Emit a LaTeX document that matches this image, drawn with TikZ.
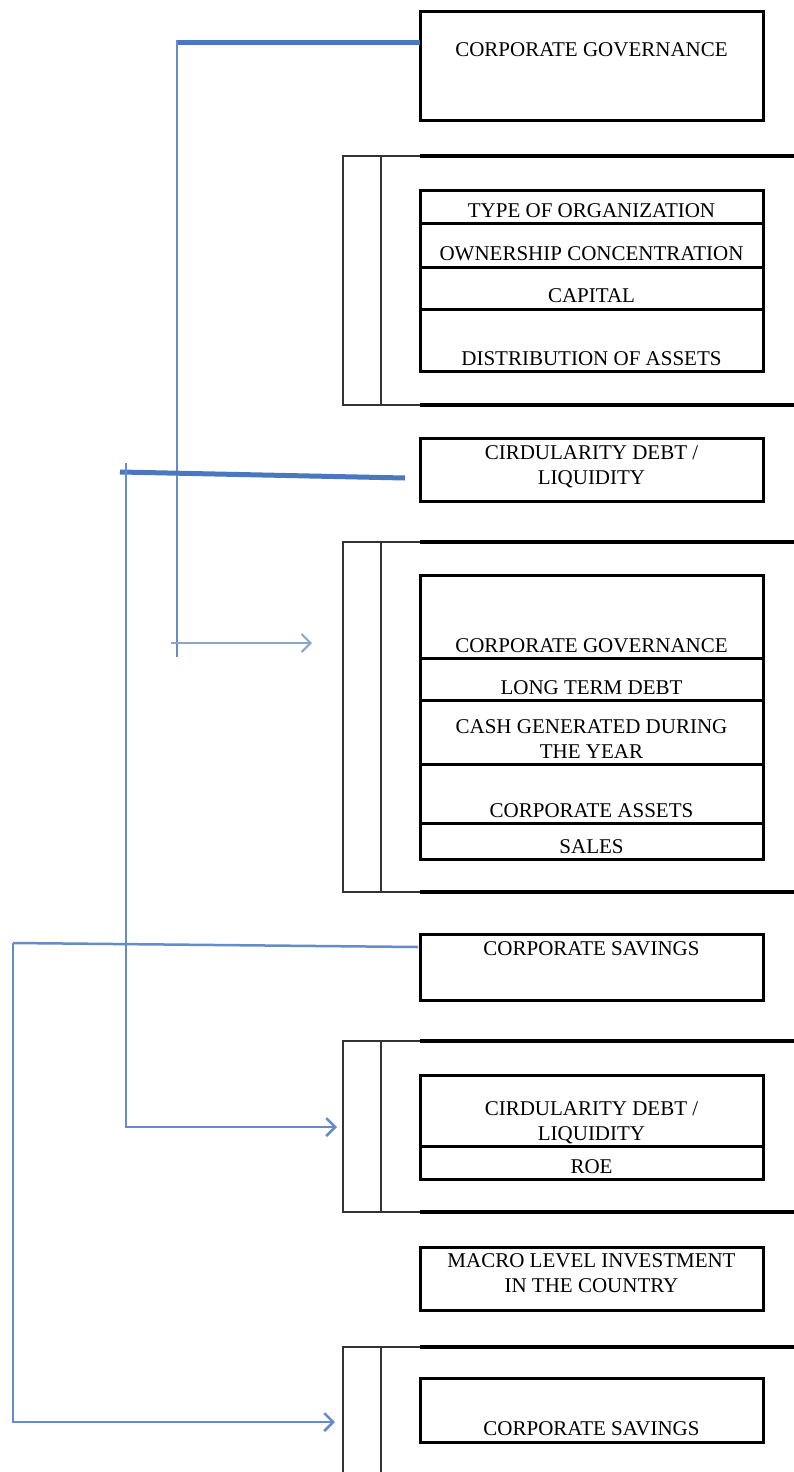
\documentclass[tikz,border=0pt]{standalone}
\usepackage{fontspec}
\setmainfont{Liberation Serif}
\usetikzlibrary{positioning,arrows.meta}

\definecolor{linkblue}{HTML}{4A78C0}
\definecolor{paleblue}{HTML}{8AA4CC}

\begin{document}
\begin{tikzpicture}[x=1pt, y=-1pt, node distance=0pt,
	every node/.style={font=\fontsize{21}{25}\selectfont},
	cell/.style={draw, line width=3pt, minimum width=343pt, inner sep=0pt, outer sep=0pt, align=center},
	bar/.style={line width=2pt, black!80},
	rule/.style={line width=3.5pt},
	thickblue/.style={line width=5pt, linkblue},
	midblue/.style={line width=2.5pt, linkblue!85},
	feed/.style={-{Straight Barb[length=9pt, width=18pt]}}]
	\fill[white] (0,0) rectangle (794,1472);
	\useasboundingbox (0,0) rectangle (794,1472);

	% brackets
	\foreach \t/\b in {156/405, 542/892, 1041/1212} {
		\draw[bar] (420,\t) -| (343,\b) -- (420,\b);
		\draw[bar] (381,\t) -- (381,\b);
		\draw[rule] (420,\t) -- (794,\t);
		\draw[rule] (420,\b) -- (794,\b);
	}
	\draw[bar] (420,1347) -| (343,1472);
	\draw[bar] (381,1347) -- (381,1472);
	\draw[rule] (420,1347) -- (794,1347);

	% boxes
	\node (gov) [cell, text height=45pt, text depth=63pt, anchor=north west] at (420,12) {CORPORATE GOVERNANCE};

	\node (org) [cell, text height=27pt, text depth=6pt, anchor=north west] at (420,190) {TYPE OF ORGANIZATION};
	\node (own) [cell, text height=37pt, text depth=7pt, below=of org] {OWNERSHIP CONCENTRATION};
	\node (cap) [cell, text height=35pt, text depth=7pt, below=of own] {CAPITAL};
	\node (dist) [cell, text height=56pt, text depth=6pt, below=of cap] {DISTRIBUTION OF ASSETS};

	\node (circ) [cell, text height=46pt, text depth=17pt, anchor=north west] at (420,438) {CIRDULARITY DEBT /\\LIQUIDITY};

	\node (cgov) [cell, text height=77pt, text depth=6pt, anchor=north west] at (420,575) {CORPORATE GOVERNANCE};
	\node (debt) [cell, text height=36pt, text depth=6pt, below=of cgov] {LONG TERM DEBT};
	\node (cash) [cell, text height=58pt, text depth=6pt, below=of debt] {CASH GENERATED DURING\\THE YEAR};
	\node (assets) [cell, text height=53pt, text depth=6pt, below=of cash] {CORPORATE ASSETS};
	\node (sales) [cell, text height=30pt, text depth=6pt, below=of assets] {SALES};

	\node (sav) [cell, text height=21pt, text depth=45pt, anchor=north west] at (420,934) {CORPORATE SAVINGS};

	\node (circb) [cell, text height=65pt, text depth=6pt, anchor=north west] at (420,1075) {CIRDULARITY DEBT /\\LIQUIDITY};
	\node (roe) [cell, text height=27pt, text depth=6pt, below=of circb] {ROE};

	\node (macro) [cell, text height=45pt, text depth=18pt, anchor=north west] at (420,1247) {MACRO LEVEL INVESTMENT\\IN THE COUNTRY};

	\node (savb) [cell, text height=57pt, text depth=7pt, anchor=north west] at (420,1378) {CORPORATE SAVINGS};

	% links
	\coordinate (govtop) at (177,43);
	\coordinate (govend) at (177,657);
	\coordinate (circtop) at (120,472);
	\coordinate (circend) at (405,478);
	\coordinate (savtop) at (13,943);
	\coordinate (savend) at (418,947);

	\draw[thickblue] (govtop) -- (govtop -| gov.west);
	\draw[midblue, line width=2pt] ([yshift=3pt]govtop) -- (govend);
	\draw[paleblue, line width=2pt, feed] (171,643) -- (312,643);

	\draw[thickblue] (circtop) -- (circend);
	\draw[midblue, feed] (126,463) |- (337,1127);

	\draw[midblue] (savtop) -- (savend);
	\draw[midblue, feed] (savtop) |- (335,1422);
\end{tikzpicture}
\end{document}
